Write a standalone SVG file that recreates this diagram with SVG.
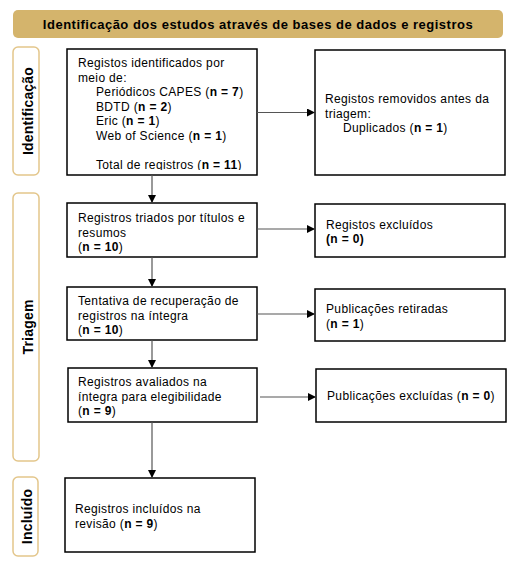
<svg xmlns="http://www.w3.org/2000/svg" width="521" height="569" viewBox="0 0 521 569">
<style>
text{font-family:"Liberation Sans",Arial,sans-serif;font-size:12px;letter-spacing:0.35px;fill:#000}
.box{fill:#fff;stroke:#000;stroke-width:1.5}
.side{fill:#fff;stroke:#e3c68b;stroke-width:1.5}
.side-t{font-size:14px;font-weight:bold;text-anchor:middle;letter-spacing:0.2px}
.hdr{font-size:13px;font-weight:bold;text-anchor:middle;letter-spacing:0.5px}
.con{stroke:#555;stroke-width:1.2;fill:none;marker-end:url(#ah)}
.b{font-weight:bold}
</style>
<defs>
<marker id="ah" viewBox="0 0 10 10" refX="10" refY="5" markerWidth="8" markerHeight="8" markerUnits="userSpaceOnUse" orient="auto">
<path d="M0,0 L10,5 L0,10 Z" fill="#000"/>
</marker>
<clipPath id="c1"><rect x="60" y="45" width="200" height="125"/></clipPath>
</defs>
<rect width="521" height="569" fill="#fff"/>
<g id="header">
<rect x="13" y="10" width="490" height="28" rx="5" fill="#d4b46c"/>
<text class="hdr" x="258" y="29">Identificação dos estudos através de bases de dados e registros</text>
</g>
<g id="side-identificacao">
<rect class="side" x="13" y="47" width="26" height="128" rx="5"/>
<text class="side-t" transform="translate(33,111) rotate(-90)">Identificação</text>
</g>
<g id="side-triagem">
<rect class="side" x="13" y="193" width="26" height="268" rx="5"/>
<text class="side-t" transform="translate(33,327) rotate(-90)">Triagem</text>
</g>
<g id="side-incluido">
<rect class="side" x="13" y="477" width="25" height="79" rx="5"/>
<text class="side-t" transform="translate(32,516.5) rotate(-90)">Incluído</text>
</g>
<g id="n1">
<rect class="box" x="67" y="49" width="190" height="126"/>
<g clip-path="url(#c1)">
<text x="78" y="67">Registos identificados por</text>
<text x="78" y="81.5">meio de:</text>
<text x="96" y="96">Periódicos CAPES (<tspan class="b">n = 7</tspan>)</text>
<text x="96" y="110.5">BDTD (<tspan class="b">n = 2</tspan>)</text>
<text x="96" y="125">Eric (<tspan class="b">n = 1</tspan>)</text>
<text x="96" y="139.5">Web of Science (<tspan class="b">n = 1</tspan>)</text>
<text x="96" y="169">Total de registros (<tspan class="b">n = 11</tspan>)</text>
</g>
</g>
<g id="n2">
<rect class="box" x="315" y="50" width="190" height="125"/>
<text x="325" y="103">Registos removidos antes da</text>
<text x="325" y="117.5">triagem:</text>
<text x="343" y="132">Duplicados (<tspan class="b">n = 1</tspan>)</text>
</g>
<g id="n3">
<rect class="box" x="67" y="203" width="190" height="54"/>
<text x="78" y="222">Registros triados por títulos e</text>
<text x="78" y="236.5">resumos</text>
<text x="78" y="251">(<tspan class="b">n = 10</tspan>)</text>
</g>
<g id="n4">
<rect class="box" x="315" y="204" width="190" height="53"/>
<text x="326" y="228.5">Registos excluídos</text>
<text x="326" y="243" class="b">(n = 0)</text>
</g>
<g id="n5">
<rect class="box" x="67" y="287" width="190" height="53"/>
<text x="78" y="305">Tentativa de recuperação de</text>
<text x="78" y="319.5">registros na íntegra</text>
<text x="78" y="334">(<tspan class="b">n = 10</tspan>)</text>
</g>
<g id="n6">
<rect class="box" x="315" y="289" width="190" height="52"/>
<text x="326" y="313">Publicações retiradas</text>
<text x="326" y="327.5">(<tspan class="b">n = 1</tspan>)</text>
</g>
<g id="n7">
<rect class="box" x="68" y="368" width="189" height="54"/>
<text x="78" y="386">Registros avaliados na</text>
<text x="78" y="400.5">íntegra para elegibilidade</text>
<text x="78" y="415">(<tspan class="b">n = 9</tspan>)</text>
</g>
<g id="n8">
<rect class="box" x="316" y="369" width="190" height="53"/>
<text x="327" y="400">Publicações excluídas (<tspan class="b">n = 0</tspan>)</text>
</g>
<g id="n9">
<rect class="box" x="65" y="478" width="190" height="74"/>
<text x="75" y="513">Registros incluídos na</text>
<text x="75" y="527.5">revisão (<tspan class="b">n = 9</tspan>)</text>
</g>
<g id="connectors">
<line class="con" x1="257" y1="112.5" x2="315" y2="112.5"/>
<line class="con" x1="152" y1="175" x2="152" y2="203"/>
<line class="con" x1="257" y1="229" x2="315" y2="229"/>
<line class="con" x1="152" y1="257" x2="152" y2="287"/>
<line class="con" x1="257" y1="314" x2="315" y2="314"/>
<line class="con" x1="152" y1="340" x2="152" y2="368"/>
<line class="con" x1="260" y1="397" x2="316" y2="397"/>
<line class="con" x1="152" y1="422" x2="152" y2="478"/>
</g>
</svg>
